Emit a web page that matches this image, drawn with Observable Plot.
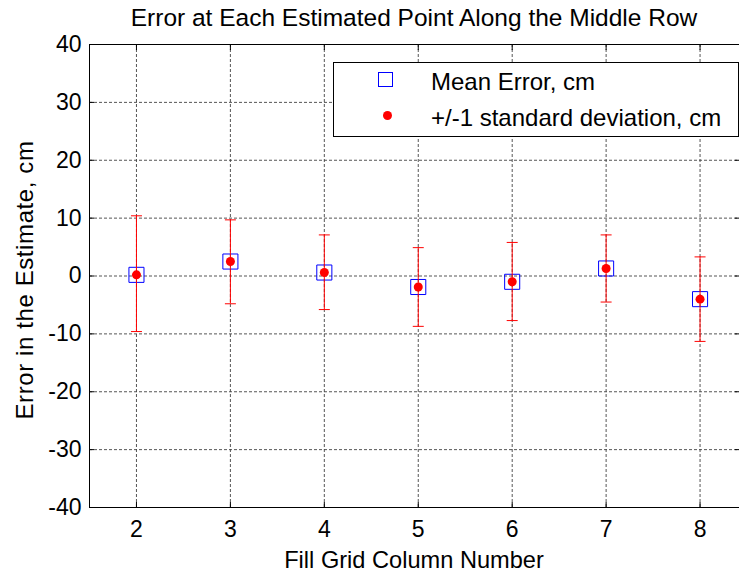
<!DOCTYPE html>
<html>
<head>
<meta charset="utf-8">
<script src="https://cdn.jsdelivr.net/npm/d3@7"></script>
<script src="https://cdn.jsdelivr.net/npm/@observablehq/plot@0.6"></script>
<style>
  html, body { margin: 0; padding: 0; background: #fff; }
  #wrap { position: relative; width: 739px; height: 573px; overflow: hidden; font-family: "Liberation Sans", Arial, sans-serif; color: #000; }
  #wrap svg { position: absolute; left: 0; top: 0; }
  .lbl { position: absolute; white-space: nowrap; font-size: 23px; line-height: 22px; }
  #title { left: 89px; width: 650px; top: 6px; text-align: center; font-size: 24.5px; line-height: 24px; }
  #xlabel { left: 89px; width: 650px; top: 549px; text-align: center; font-size: 23.6px; }
  #ylabel { left: -175px; top: 269px; width: 400px; text-align: center; font-size: 24px; letter-spacing: 0.6px; transform: rotate(-90deg); transform-origin: 200px 11px; }
  #legend { position: absolute; left: 333px; top: 62px; width: 406px; height: 75px; border: 1px solid #000; background: #fff; box-sizing: border-box; }
  #legend .sq { position: absolute; left: 44px; top: 9px; width: 15px; height: 15px; border: 1px solid #0000ff; box-sizing: border-box; }
  #legend .dt { position: absolute; left: 49px; top: 48px; width: 9px; height: 9px; border-radius: 50%; background: #ff0000; }
  #legend .t1 { left: 97px; top: 8px; font-size: 24px; }
  #legend .t2 { left: 97px; top: 44px; font-size: 24px; }
</style>
</head>
<body>
<div id="wrap">
  <div id="chart"></div>
  <div id="title" class="lbl">Error at Each Estimated Point Along the Middle Row</div>
  <div id="xlabel" class="lbl">Fill Grid Column Number</div>
  <div id="ylabel" class="lbl">Error in the Estimate, cm</div>
  <div id="legend">
    <div class="sq"></div>
    <div class="dt"></div>
    <div class="lbl t1">Mean Error, cm</div>
    <div class="lbl t2">+/-1 standard deviation, cm</div>
  </div>
</div>
<script>
// Data
const columns = [2, 3, 4, 5, 6, 7, 8];
const meanError = [0.2, 2.5, 0.6, -1.9, -1.0, 1.3, -4.0];
const lowerBound = [-9.6, -4.8, -5.8, -8.7, -7.7, -4.5, -11.3];
const upperBound = [10.4, 9.7, 7.1, 4.9, 5.8, 7.1, 3.3];
const xTicks = [2, 3, 4, 5, 6, 7, 8];
const yTicks = [-40, -30, -20, -10, 0, 10, 20, 30, 40];

const data = columns.map((c, i) => ({col: c, mean: meanError[i], lo: lowerBound[i], hi: upperBound[i]}));

const capSymbol = {
  draw(ctx, size) {
    const r = Math.sqrt(size / Math.PI);
    ctx.moveTo(-r, 0);
    ctx.lineTo(r, 0);
  }
};

const gridStyle = {stroke: "#444", strokeOpacity: 0.9, strokeDasharray: "3,2", strokeWidth: 1};
const fmt = d => String(d);

const chart = Plot.plot({
  width: 739,
  height: 573,
  marginTop: 44,
  marginBottom: 66,
  marginLeft: 89,
  marginRight: 0,
  style: {fontFamily: "'Liberation Sans', Arial, sans-serif", fontSize: "23px", color: "#000", background: "transparent"},
  x: {domain: [1.5, 8.42]},
  y: {domain: [-40, 40]},
  marks: [
    Plot.gridX(xTicks, gridStyle),
    Plot.gridY(yTicks, gridStyle),
    Plot.axisX(xTicks, {anchor: "bottom", tickSize: 0, tickPadding: 13, label: null, fontSize: 23, tickFormat: fmt}),
    Plot.axisY(yTicks, {anchor: "left", tickSize: 0, tickPadding: 8, label: null, fontSize: 23, tickFormat: fmt}),
    Plot.axisX(xTicks, {anchor: "bottom", tickSize: -5, tickFormat: () => "", label: null}),
    Plot.axisX(xTicks, {anchor: "top", tickSize: -5, tickFormat: () => "", label: null}),
    Plot.axisY(yTicks, {anchor: "left", tickSize: -5, tickFormat: () => "", label: null}),
    Plot.axisY(yTicks, {anchor: "right", tickSize: -5, tickFormat: () => "", label: null}),
    Plot.frame({stroke: "#000", strokeWidth: 1}),
    Plot.dot(data, {x: "col", y: "mean", symbol: "square", r: 8.5, stroke: "#0000ff", fill: "none", strokeWidth: 1}),
    Plot.ruleX(data, {x: "col", y1: "lo", y2: "hi", stroke: "#ff0000", strokeWidth: 1}),
    Plot.dot(data, {x: "col", y: "hi", symbol: capSymbol, r: 5.5, stroke: "#ff0000", strokeWidth: 1}),
    Plot.dot(data, {x: "col", y: "lo", symbol: capSymbol, r: 5.5, stroke: "#ff0000", strokeWidth: 1}),
    Plot.dot(data, {x: "col", y: "mean", r: 4.5, fill: "#ff0000", stroke: "none"})
  ]
});
document.getElementById("chart").appendChild(chart);
</script>
</body>
</html>
